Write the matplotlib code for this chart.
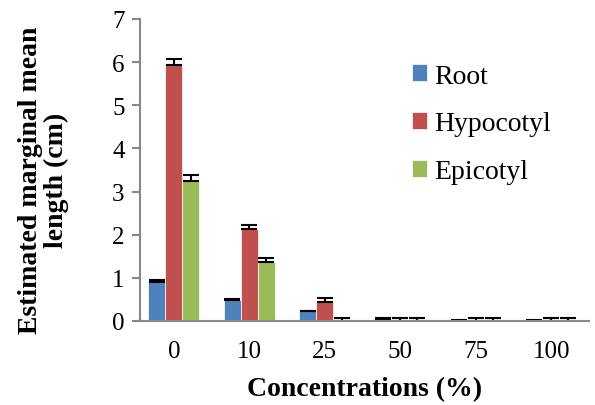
import numpy as np
import matplotlib.pyplot as plt

plt.rcParams['font.family'] = ['Liberation Serif', 'DejaVu Serif']

concentrations = ["0", "10", "25", "50", "75", "100"]
root = [0.90, 0.48, 0.22, 0.05, 0.01, 0.01]
root_err = [0.05, 0.03, 0.02, 0.01, 0.01, 0.01]
hypocotyl = [5.93, 2.12, 0.43, 0.0, 0.0, 0.0]
hypocotyl_err = [0.13, 0.10, 0.11, 0.07, 0.07, 0.07]
epicotyl = [3.25, 1.37, 0.0, 0.0, 0.0, 0.0]
epicotyl_err = [0.14, 0.08, 0.07, 0.07, 0.07, 0.07]

fig = plt.figure(figsize=(5.95, 4.06), dpi=100)
ax = fig.add_axes([0.235, 0.207, 0.755, 0.744])

x = np.arange(len(concentrations))
w = 0.225
series = [("Root", root, root_err, "#4f81bd"),
          ("Hypocotyl", hypocotyl, hypocotyl_err, "#c0504d"),
          ("Epicotyl", epicotyl, epicotyl_err, "#9bbb59")]
for i, (name, vals, errs, col) in enumerate(series):
    pos = x + (i - 1) * w
    ax.bar(pos, vals, w, color=col, edgecolor="white", linewidth=0.5, label=name)
    ax.errorbar(pos, vals, yerr=[np.zeros(len(errs)), errs], fmt="none",
                ecolor="black", elinewidth=1.5, capsize=5.5, capthick=1.5)

ax.set_xlim(-0.45, 5.5)
ax.set_ylim(0, 7)
ax.set_xticks(x)
ax.set_xticklabels(concentrations)
ax.set_yticks(range(8))
ax.tick_params(axis="x", length=0, labelsize=18, pad=14)
ax.tick_params(axis="y", length=6, color="#888888", labelsize=18, width=1.5, pad=5)
for s in ["top", "right"]:
    ax.spines[s].set_visible(False)
for s in ["left", "bottom"]:
    ax.spines[s].set_color("#888888")
    ax.spines[s].set_linewidth(1.5)

ax.set_xlabel("Concentrations (%)", fontsize=20, fontweight="bold", labelpad=10)
ax.set_ylabel("Estimated marginal mean\nlength (cm)", fontsize=20, fontweight="bold",
              linespacing=1.05)
ax.yaxis.set_label_coords(-0.158, 0.47)
ax.legend(loc="upper left", bbox_to_anchor=(0.55, 0.935), frameon=False, fontsize=20,
          handlelength=0.55, handleheight=0.55, labelspacing=0.82, handletextpad=0.25)

fig.savefig("out.png", dpi=100)
